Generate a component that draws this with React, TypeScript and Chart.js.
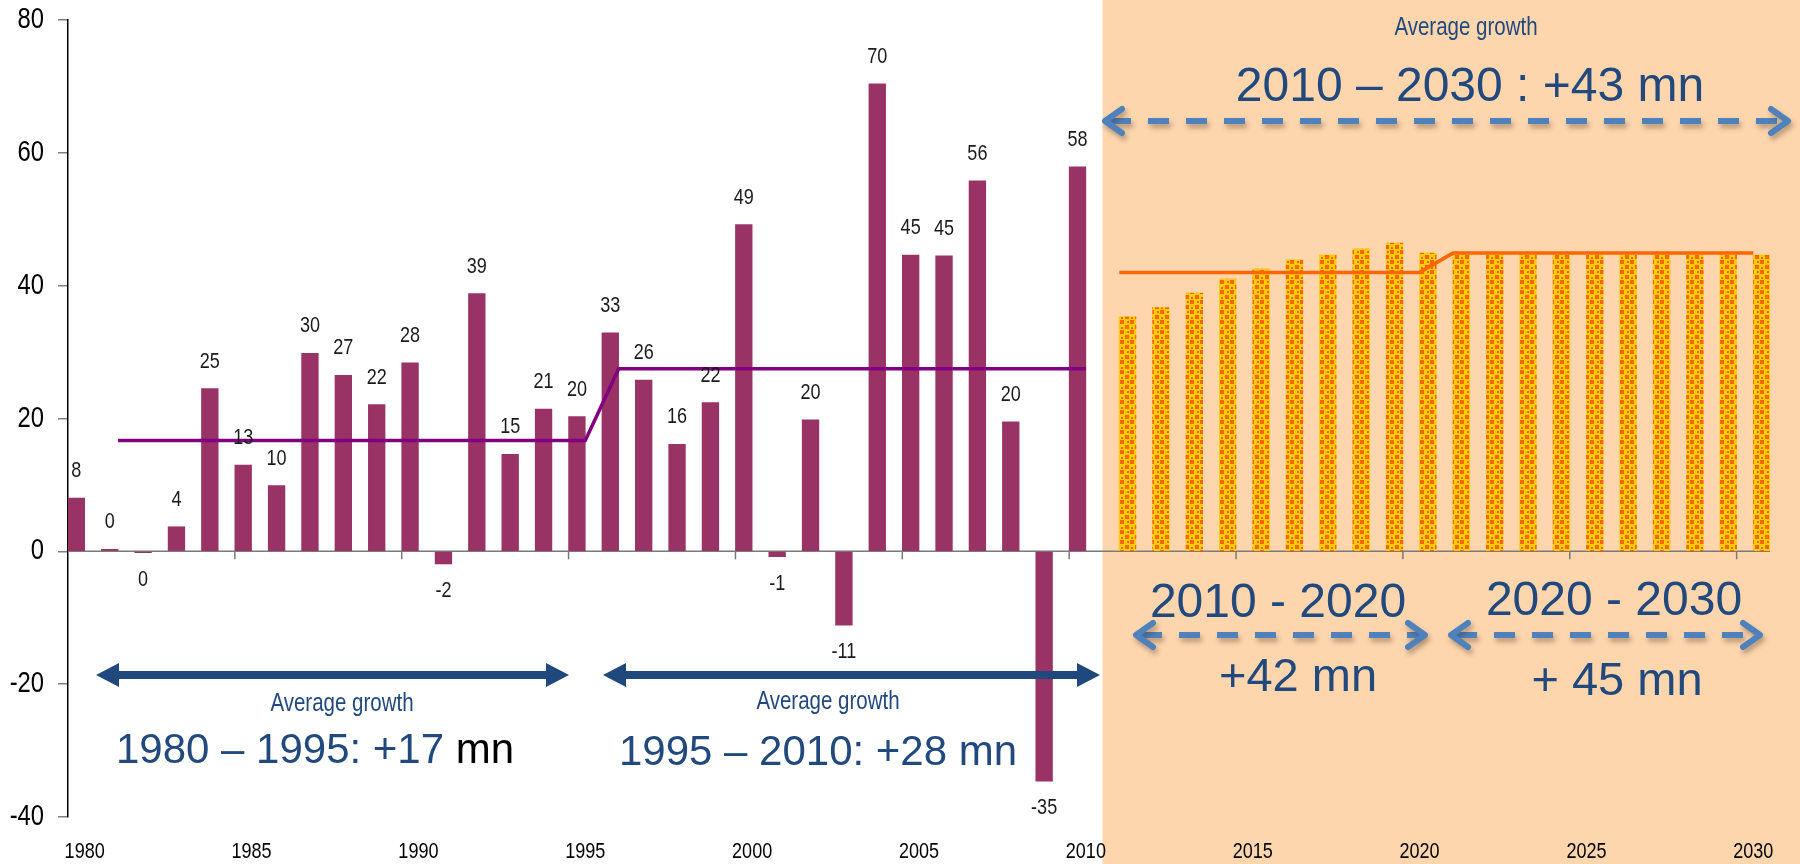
import React, { useEffect, useRef } from 'react';
import { Chart, registerables } from 'chart.js';

Chart.register(...registerables);

const categories = [
  '1980', '1981', '1982', '1983', '1984', '1985', '1986', '1987', '1988', '1989',
  '1990', '1991', '1992', '1993', '1994', '1995', '1996', '1997', '1998', '1999',
  '2000', '2001', '2002', '2003', '2004', '2005', '2006', '2007', '2008', '2009',
  '2010', '2011', '2012', '2013', '2014', '2015', '2016', '2017', '2018', '2019',
  '2020', '2021', '2022', '2023', '2024', '2025', '2026', '2027', '2028', '2029', '2030',
];

// Annual growth 1980-2010 (mn)
const historicGrowth = [
  8.0, 0.3, -0.2, 3.7, 24.5, 13.0, 9.9, 29.8, 26.5, 22.1,
  28.4, -1.9, 38.8, 14.6, 21.4, 20.3, 32.9, 25.8, 16.1, 22.4,
  49.2, -0.8, 19.8, -11.1, 70.4, 44.6, 44.5, 55.8, 19.5, -34.6, 57.9,
];

// Projected growth 2011-2030 (mn)
const projectedGrowth = [
  35.3, 36.7, 38.9, 41.0, 42.5, 43.9, 44.6, 45.5, 46.4, 44.9,
  44.6, 44.6, 44.6, 44.6, 44.6, 44.6, 44.6, 44.6, 44.6, 44.6,
];

// Period averages (1981-2010)
const historicAverage = [
  16.7, 16.7, 16.7, 16.7, 16.7, 16.7, 16.7, 16.7, 16.7, 16.7, 16.7, 16.7, 16.7, 16.7, 16.7,
  27.5, 27.5, 27.5, 27.5, 27.5, 27.5, 27.5, 27.5, 27.5, 27.5, 27.5, 27.5, 27.5, 27.5, 27.5,
];

// Period averages (2011-2030)
const projectedAverage = [
  42.0, 42.0, 42.0, 42.0, 42.0, 42.0, 42.0, 42.0, 42.0, 42.0,
  44.9, 44.9, 44.9, 44.9, 44.9, 44.9, 44.9, 44.9, 44.9, 44.9,
];

const yTicks = { min: -40, max: 80, step: 20 };

const ARIAL = '"Liberation Sans", Arial, sans-serif';
const NAVY = '#22497D';
const STEEL = '#4F81BD';
const PEACH = '#FDD6AE';
const SQUEEZE = 0.82;

function makePattern(): CanvasPattern | string {
  const tile = document.createElement('canvas');
  tile.width = 10;
  tile.height = 10;
  const t = tile.getContext('2d');
  if (!t) return '#FFCC00';
  t.fillStyle = '#FFCC00';
  t.fillRect(0, 0, 10, 10);
  t.fillStyle = '#FF6600';
  t.fillRect(0, 0, 4, 4);
  t.fillRect(5, 5, 4, 4);
  t.fillRect(7, 1, 2, 2);
  t.fillRect(1, 7, 2, 2);
  const p = t.createPattern(tile, 'repeat');
  return p || '#FFCC00';
}

function narrowText(
  ctx: CanvasRenderingContext2D, s: string, x: number, y: number, size: number, color: string,
  align: CanvasTextAlign = 'center', baseline: CanvasTextBaseline = 'middle',
) {
  ctx.save();
  ctx.font = `${size}px ${ARIAL}`;
  ctx.fillStyle = color;
  ctx.textAlign = align;
  ctx.textBaseline = baseline;
  ctx.translate(x, y);
  ctx.scale(SQUEEZE, 1);
  ctx.fillText(s, 0, 0);
  ctx.restore();
}

function text(ctx: CanvasRenderingContext2D, s: string, x: number, y: number, size: number, color: string) {
  ctx.save();
  ctx.font = `${size}px ${ARIAL}`;
  ctx.fillStyle = color;
  ctx.textAlign = 'center';
  ctx.textBaseline = 'alphabetic';
  ctx.fillText(s, x, y);
  ctx.restore();
}

function solidArrow(ctx: CanvasRenderingContext2D, x1: number, x2: number, y: number) {
  const hl = 23, hh = 12, sh = 4;
  ctx.save();
  ctx.fillStyle = '#1F497D';
  ctx.beginPath();
  ctx.moveTo(x1, y);
  ctx.lineTo(x1 + hl, y - hh);
  ctx.lineTo(x1 + hl, y - sh);
  ctx.lineTo(x2 - hl, y - sh);
  ctx.lineTo(x2 - hl, y - hh);
  ctx.lineTo(x2, y);
  ctx.lineTo(x2 - hl, y + hh);
  ctx.lineTo(x2 - hl, y + sh);
  ctx.lineTo(x1 + hl, y + sh);
  ctx.lineTo(x1 + hl, y + hh);
  ctx.closePath();
  ctx.fill();
  ctx.restore();
}

function dashedArrow(ctx: CanvasRenderingContext2D, x1: number, x2: number, y: number) {
  ctx.save();
  ctx.strokeStyle = STEEL;
  ctx.lineWidth = 6;
  ctx.shadowColor = 'rgba(60,40,20,0.35)';
  ctx.shadowBlur = 5;
  ctx.shadowOffsetX = 2;
  ctx.shadowOffsetY = 4;
  ctx.lineCap = 'butt';
  ctx.setLineDash([21, 17]);
  ctx.beginPath();
  ctx.moveTo(x1 + 8, y);
  ctx.lineTo(x2 - 8, y);
  ctx.stroke();
  ctx.setLineDash([]);
  ctx.lineCap = 'round';
  ctx.lineJoin = 'round';
  ctx.beginPath();
  ctx.moveTo(x1 + 20, y - 12);
  ctx.lineTo(x1 + 3, y);
  ctx.lineTo(x1 + 20, y + 12);
  ctx.stroke();
  ctx.beginPath();
  ctx.moveTo(x2 - 20, y - 12);
  ctx.lineTo(x2 - 3, y);
  ctx.lineTo(x2 - 20, y + 12);
  ctx.stroke();
  ctx.restore();
}

const backgroundPlugin = {
  id: 'peachBackground',
  beforeDraw(chart: any) {
    const { ctx, scales } = chart;
    const xs = scales.x;
    const catW = xs.getPixelForValue(1) - xs.getPixelForValue(0);
    const startX = xs.getPixelForValue(31) - catW / 2;
    ctx.save();
    ctx.fillStyle = PEACH;
    ctx.fillRect(startX, 0, chart.width - startX, chart.height);
    ctx.restore();
  },
};

const axisLabelsPlugin = {
  id: 'axisLabels',
  beforeDatasetsDraw(chart: any) {
    const { ctx, scales, chartArea } = chart;
    const xs = scales.x;
    const ys = scales.y;
    const y0 = ys.getPixelForValue(0);
    const catW = xs.getPixelForValue(1) - xs.getPixelForValue(0);
    // zero line with 5-year tick marks
    ctx.save();
    ctx.strokeStyle = '#7a7a7a';
    ctx.lineWidth = 1.5;
    ctx.beginPath();
    ctx.moveTo(chartArea.left, y0);
    ctx.lineTo(chartArea.right, y0);
    ctx.stroke();
    categories.forEach((c, i) => {
      if (i > 0 && Number(c) % 5 === 0) {
        const x = xs.getPixelForValue(i) - catW / 2;
        ctx.beginPath();
        ctx.moveTo(x, y0);
        ctx.lineTo(x, y0 + 8);
        ctx.stroke();
      }
    });
    ctx.restore();
    // category labels
    categories.forEach((c, i) => {
      if (Number(c) % 5 === 0) {
        narrowText(ctx, c, xs.getPixelForValue(i), chartArea.bottom + 35, 22, '#000');
      }
    });
    // value labels
    ys.ticks.forEach((t: any) => {
      narrowText(ctx, String(t.value), chartArea.left - 24, ys.getPixelForValue(t.value), 29, '#000', 'right');
    });
  },
};

const dataLabelPlugin = {
  id: 'barValueLabels',
  afterDatasetsDraw(chart: any) {
    const { ctx } = chart;
    const meta = chart.getDatasetMeta(0);
    meta.data.forEach((el: any, i: number) => {
      const v = chart.data.datasets[0].data[i];
      if (v === null || v === undefined) return;
      const y = v >= 0 ? el.y - 27 : el.y + 27;
      narrowText(ctx, String(Math.round(v)), el.x, y, 22, '#1a1a1a');
    });
  },
};

const annotationPlugin = {
  id: 'growthAnnotations',
  afterDraw(chart: any) {
    const { ctx } = chart;
    // Historic periods
    solidArrow(ctx, 96, 569, 675);
    solidArrow(ctx, 603, 1100, 675);
    narrowText(ctx, 'Average growth', 342, 711, 25, NAVY, 'center', 'alphabetic');
    narrowText(ctx, 'Average growth', 828, 709, 25, NAVY, 'center', 'alphabetic');

    ctx.save();
    ctx.font = `42px ${ARIAL}`;
    ctx.textBaseline = 'alphabetic';
    ctx.textAlign = 'left';
    const p1 = '1980 – 1995: +17 ';
    const p2 = 'mn';
    const w1 = ctx.measureText(p1).width;
    const w2 = ctx.measureText(p2).width;
    const sx = 315 - (w1 + w2) / 2;
    ctx.fillStyle = NAVY;
    ctx.fillText(p1, sx, 763);
    ctx.fillStyle = '#000';
    ctx.fillText(p2, sx + w1, 763);
    ctx.restore();

    text(ctx, '1995 – 2010: +28 mn', 818, 765, 42, NAVY);

    // Projection periods
    narrowText(ctx, 'Average growth', 1466, 35, 25, NAVY, 'center', 'alphabetic');
    text(ctx, '2010 – 2030 : +43 mn', 1470, 101, 48, NAVY);
    dashedArrow(ctx, 1102, 1791, 121);

    text(ctx, '2010 - 2020', 1278, 617, 48, NAVY);
    text(ctx, '2020 - 2030', 1614, 615, 48, NAVY);
    dashedArrow(ctx, 1133, 1428, 635);
    dashedArrow(ctx, 1448, 1763, 635);
    text(ctx, '+42 mn', 1298, 691, 47, NAVY);
    text(ctx, '+ 45 mn', 1617, 695, 47, NAVY);
  },
};

export default function App() {
  const canvasRef = useRef<HTMLCanvasElement | null>(null);

  useEffect(() => {
    const canvas = canvasRef.current;
    if (!canvas) return;
    const nHist = historicGrowth.length;
    const nProj = projectedGrowth.length;
    const pad = (n: number) => new Array(n).fill(null);

    const purpleBars = [...historicGrowth, ...pad(nProj)];
    const orangeBars = [...pad(nHist), ...projectedGrowth];
    const purpleLine = [null, ...historicAverage, ...pad(nProj)];
    const orangeLine = [...pad(nHist), ...projectedAverage];

    const chart = new Chart(canvas, {
      type: 'bar',
      data: {
        labels: categories,
        datasets: [
          {
            type: 'bar',
            label: 'Annual growth',
            data: purpleBars,
            backgroundColor: '#993366',
            borderWidth: 0,
            categoryPercentage: 1,
            barPercentage: 1,
            order: 2,
          },
          {
            type: 'bar',
            label: 'Projected growth',
            data: orangeBars,
            backgroundColor: makePattern() as any,
            borderWidth: 0,
            categoryPercentage: 1,
            barPercentage: 1,
            order: 2,
          },
          {
            type: 'line',
            label: 'Historic average',
            data: purpleLine,
            borderColor: '#800080',
            borderWidth: 3.5,
            pointRadius: 0,
            tension: 0,
            fill: false,
            order: 1,
          },
          {
            type: 'line',
            label: 'Projected average',
            data: orangeLine,
            borderColor: '#FF6600',
            borderWidth: 3.5,
            pointRadius: 0,
            tension: 0,
            fill: false,
            order: 1,
          },
        ] as any,
      },
      options: {
        responsive: false,
        animation: false,
        devicePixelRatio: 1,
        layout: { padding: { top: 20, right: 30, bottom: 0, left: 0 } },
        plugins: {
          legend: { display: false },
          tooltip: { enabled: false },
        },
        scales: {
          x: {
            ticks: { display: false, autoSkip: false, maxRotation: 0, minRotation: 0 },
            grid: { display: false, drawTicks: false },
            border: { display: false },
            afterFit: (s: any) => {
              s.height = 47;
              s.paddingLeft = 0;
              s.paddingRight = 0;
            },
          },
          y: {
            min: yTicks.min,
            max: yTicks.max,
            ticks: { display: false, stepSize: yTicks.step },
            grid: {
              drawOnChartArea: false,
              drawTicks: true,
              tickLength: 10,
              color: '#808080',
              lineWidth: 1.5,
            },
            border: { display: true, color: '#000', width: 1.5 },
            afterFit: (s: any) => {
              s.width = 68;
              s.paddingTop = 0;
              s.paddingBottom = 0;
            },
          },
        },
      } as any,
      plugins: [backgroundPlugin, axisLabelsPlugin, dataLabelPlugin, annotationPlugin],
    });

    return () => chart.destroy();
  }, []);

  return (
    <div style={{ position: 'fixed', left: 0, top: 0, width: 1800, height: 864, background: '#fff' }}>
      <canvas ref={canvasRef} width={1800} height={864} style={{ display: 'block' }} />
    </div>
  );
}
